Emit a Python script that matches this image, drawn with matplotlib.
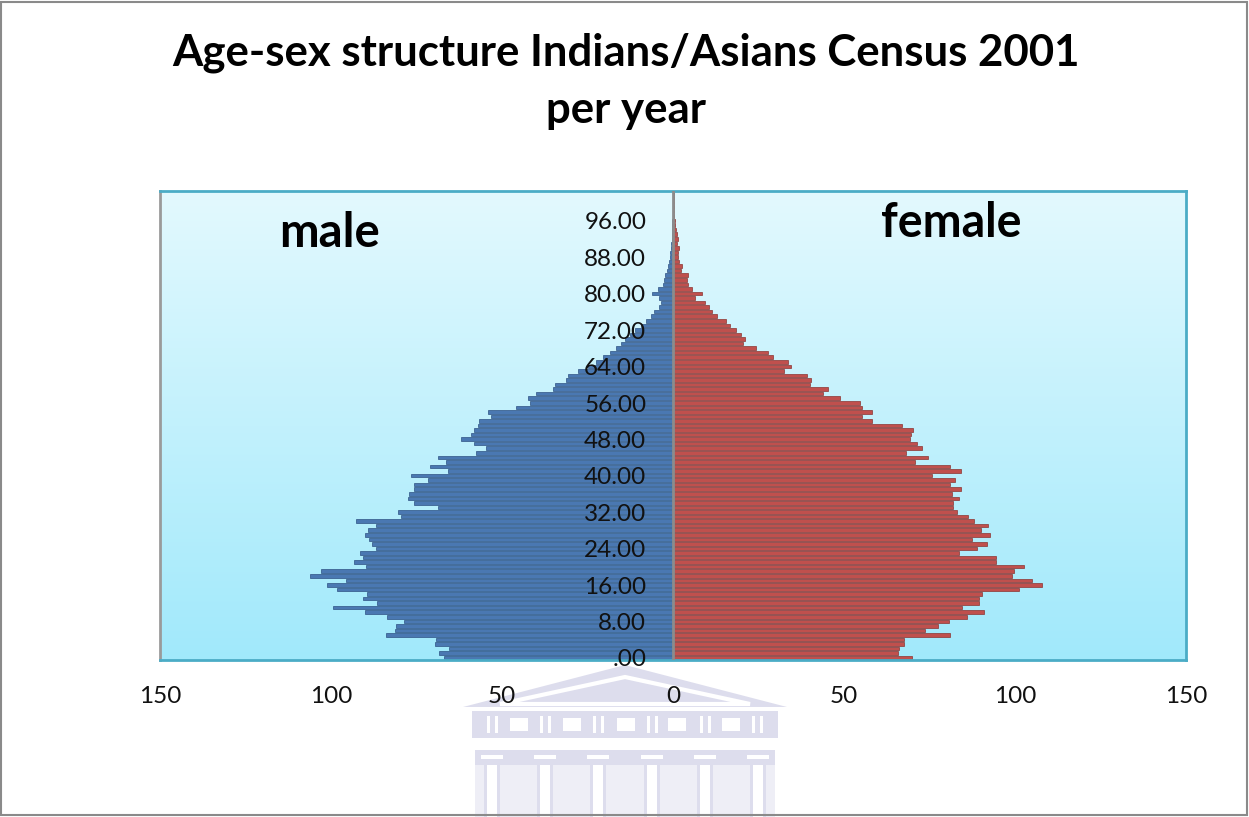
import numpy as np
import matplotlib
matplotlib.use("Agg")
import matplotlib.pyplot as plt
from matplotlib.colors import LinearSegmentedColormap
from matplotlib.patches import Polygon, Rectangle

# single-year ages 0..102
ages = list(range(103))

male = [
    66.9, 68.3, 65.4, 69.6, 69.3, 83.9, 81.3, 81.0, 78.6, 83.7,
    90.1, 99.4, 86.6, 90.5, 89.5, 98.3, 101.2, 95.7, 106.1, 102.8,
    89.8, 93.2, 90.5, 91.5, 86.9, 87.9, 88.8, 90.1, 89.3, 86.9,
    92.7, 79.6, 80.5, 68.8, 75.8, 77.4, 77.2, 75.7, 75.7, 71.7,
    76.6, 65.9, 71.0, 66.4, 68.8, 57.6, 54.7, 58.1, 62.0, 59.0,
    58.1, 57.1, 56.6, 53.2, 54.2, 45.8, 41.9, 42.4, 40.0, 35.1,
    34.6, 31.2, 30.7, 27.8, 24.9, 22.4, 20.5, 18.5, 16.6, 15.1,
    14.0, 12.5, 11.0, 9.5, 8.0, 6.5, 5.5, 4.0, 3.5, 4.0,
    6.0, 4.5, 3.0, 2.6, 2.2, 1.8, 1.5, 1.2, 1.0, 0.8,
    0.6, 0.5, 0.4, 0.4, 0.3, 0.2, 0.2, 0.1, 0.1, 0.1,
    0.1, 0.05, 0.05,
]

female = [
    69.8, 65.9, 66.1, 67.4, 67.4, 81.0, 73.7, 77.6, 80.6, 85.9,
    90.8, 84.5, 89.4, 89.6, 90.3, 101.1, 107.9, 105.0, 99.1, 99.6,
    102.6, 94.3, 94.4, 83.5, 88.9, 91.8, 87.4, 92.8, 90.1, 92.0,
    87.9, 86.2, 83.0, 82.0, 82.0, 83.5, 81.5, 84.3, 81.0, 82.5,
    75.7, 84.3, 81.0, 70.8, 74.7, 68.0, 72.9, 71.3, 69.3, 69.6,
    70.3, 66.9, 58.3, 55.2, 58.1, 55.4, 54.7, 48.8, 44.0, 45.4,
    40.0, 40.3, 39.1, 32.5, 34.5, 33.7, 29.3, 27.8, 24.4, 20.5,
    21.0, 20.0, 18.5, 16.8, 15.5, 13.0, 11.5, 10.5, 9.5, 6.5,
    8.5, 5.5, 4.5, 4.2, 4.4, 2.4, 2.6, 1.9, 1.5, 1.5,
    1.9, 1.3, 1.5, 1.3, 0.8, 0.6, 0.5, 0.4, 0.3, 0.3,
    0.2, 0.2, 0.2,
]

age_ticks = [0, 8, 16, 24, 32, 40, 48, 56, 64, 72, 80, 88, 96]
x_ticks = [-150, -100, -50, 0, 50, 100, 150]

plt.rcParams['font.family'] = ['Lato', 'DejaVu Sans']

W, H = 1249, 817
fig = plt.figure(figsize=(W / 100, H / 100), dpi=100)


def px(x, y):
    # pixel position (from top-left) to figure fraction
    return (x / W, 1 - y / H)


def box(x0, y0, x1, y1, color):
    fig.add_artist(Rectangle(px(x0, y1), (x1 - x0) / W, (y1 - y0) / H, facecolor=color,
                             edgecolor='none', transform=fig.transFigure, zorder=-1))


# faint building emblem under the chart
lav = '#dddded'
pale = '#eeeef6'
fig.add_artist(Polygon([px(463, 707), px(625, 665), px(787, 707)], closed=True,
                       facecolor=lav, edgecolor='none', transform=fig.transFigure, zorder=-1))
fig.add_artist(Polygon([px(500, 704), px(625, 677), px(750, 704)], closed=True,
                       facecolor=lav, edgecolor='white', lw=3, transform=fig.transFigure, zorder=-1))
box(470, 707, 780, 711, 'white')
box(472, 711, 778, 738, lav)
for wx in [510, 563, 617, 668, 722]:
    box(wx, 718, wx + 18, 731, 'white')
for sx in [487, 540, 593, 647, 700, 752]:
    box(sx, 716, sx + 3, 733, 'white')
    box(sx + 8, 716, sx + 11, 733, 'white')
box(475, 750, 775, 765, lav)
for cx in [492, 545, 598, 652, 705, 758]:
    box(cx - 11, 755, cx + 11, 759, 'white')
box(475, 765, 775, 817, pale)
for cx in [492, 545, 598, 652, 705, 758]:
    box(cx - 8, 765, cx + 8, 817, 'white')
    box(cx - 8, 765, cx - 5, 817, lav)
    box(cx + 5, 765, cx + 8, 817, lav)

ax = fig.add_axes([160 / W, 1 - 660 / H, 1026 / W, 469 / H])
ax.set_facecolor('none')

# light cyan vertical gradient for the plot area
grad = np.linspace(0, 1, 256).reshape(-1, 1)
bg = LinearSegmentedColormap.from_list('bg', ['#a1e9fb', '#e3f9fe'])
ax.imshow(grad, extent=[-150, 150, 0, 103], origin='lower', aspect='auto',
          cmap=bg, zorder=0, interpolation='bilinear')

y = np.array(ages) + 0.5
ax.barh(y, -np.array(male), height=0.78, color='#4a78b2',
        edgecolor='#2e5283', linewidth=0.5, zorder=2)
ax.barh(y, female, height=0.78, color='#c0504d',
        edgecolor='#8a3431', linewidth=0.5, zorder=2)
ax.axvline(0, color='#8c8c8c', lw=2, zorder=3)

ax.set_xlim(-150, 150)
ax.set_ylim(0, 103)

ax.set_yticks([])
for a in age_ticks:
    lab = f"{a:.2f}"
    if lab.startswith('0'):
        lab = lab[1:]
    ax.text(-7.8, a, lab, ha='right', va='center', fontsize=17.5, color='#111111', zorder=4)

ax.set_xticks(x_ticks)
ax.set_xticklabels([str(abs(v)) for v in x_ticks])
ax.tick_params(axis='x', length=0, pad=19, labelsize=17.5, labelcolor='#111111')

for s in ax.spines.values():
    s.set_color('#4bacc6')
    s.set_linewidth(2)
ax.spines['left'].set_color('#9a9a9a')

ax.text(-100.5, 93.8, 'male', ha='center', va='center', fontsize=34, weight='bold')
ax.text(81.5, 96.0, 'female', ha='center', va='center', fontsize=33.5, weight='bold')

fig.text(626 / W, 1 - 53 / H, 'Age-sex structure Indians/Asians Census 2001',
         ha='center', va='center', fontsize=31.5, weight='bold')
fig.text(626 / W, 1 - 110 / H, 'per year', ha='center', va='center',
         fontsize=31.5, weight='bold')

fig.add_artist(Rectangle((0.001, 0.002), 0.997, 0.996, fill=False, edgecolor='#8a8a8a',
                         lw=1.5, transform=fig.transFigure, zorder=5))

fig.savefig('out.png', dpi=100)
